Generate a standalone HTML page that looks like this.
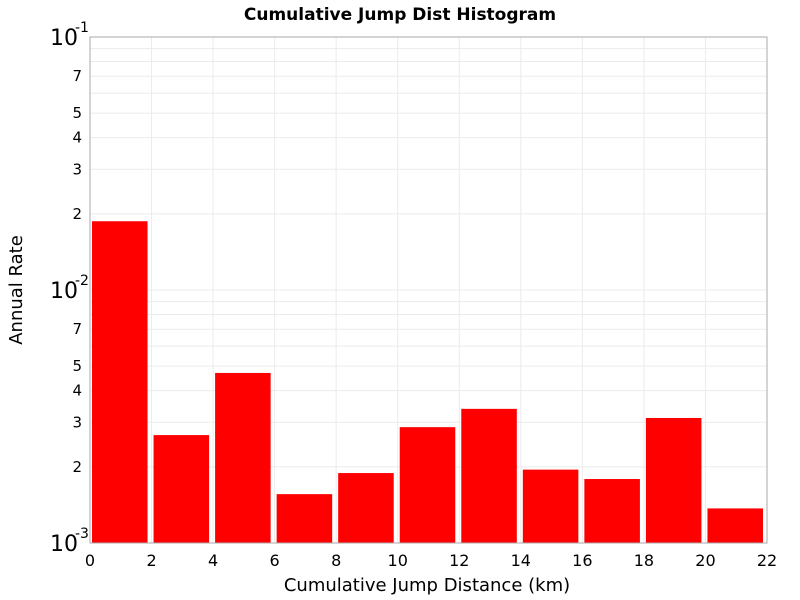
<!DOCTYPE html>
<html><head><meta charset="utf-8"><style>
body{margin:0;background:#fff;}
svg{display:block;font-family:"DejaVu Sans","Liberation Sans",sans-serif;}
</style></head><body>
<svg id="c" width="800" height="600">
<text x="400" y="20" text-anchor="middle" font-size="17" font-weight="bold">Cumulative Jump Dist Histogram</text>
<text x="427" y="591" text-anchor="middle" font-size="18">Cumulative Jump Distance (km)</text>
<text transform="translate(22,290) rotate(-90)" text-anchor="middle" font-size="18">Annual Rate</text>
<g id="grid"></g><g id="bars"></g><g id="axes"></g>
</svg>
<script>
const binStarts=[0,2,4,6,8,10,12,14,16,18,20];
const rates=[0.0187,0.00267,0.0047,0.00156,0.00189,0.00287,0.00339,0.00195,0.00179,0.00312,0.00137];
const xTicks=[0,2,4,6,8,10,12,14,16,18,20,22];
const minorLabels=[2,3,4,5,7];
const binWidth=2;
const NS="http://www.w3.org/2000/svg";
const L=90,R=767,T=37,B=543,xmin=0,xmax=22,lmin=-3,lmax=-1;
const xs=v=>L+(v-xmin)/(xmax-xmin)*(R-L);
const ys=v=>B-(Math.log10(v)-lmin)/(lmax-lmin)*(B-T);
function mk(t,a,p){const e=document.createElementNS(NS,t);for(const k in a)e.setAttribute(k,a[k]);p.appendChild(e);return e;}
const grid=document.getElementById('grid'),bars=document.getElementById('bars'),axes=document.getElementById('axes');
mk('rect',{x:L,y:T,width:R-L,height:B-T,fill:'#fff'},grid);
xTicks.forEach(t=>{const g=mk('line',{x1:xs(t),x2:xs(t),y1:T,y2:B,stroke:'#ebebeb'},grid);


const tx=mk('text',{x:xs(t),y:B+23,'text-anchor':'middle','font-size':16},axes);tx.textContent=t;

});
for(let d=lmin;d<lmax;d++){for(let m=1;m<10;m++){const v=m*Math.pow(10,d);const y=ys(v);
const g=mk('line',{x1:L,x2:R,y1:y,y2:y,stroke:'#ebebeb'},grid);


if(minorLabels.includes(m)){const tx=mk('text',{x:82,y:y+5,'text-anchor':'end','font-size':15},axes);tx.textContent=m;

}}}
for(let d=lmin;d<=lmax;d++){const y=ys(Math.pow(10,d));
const tx=mk('text',{x:50,y:y+8,'font-size':22},axes);tx.textContent='10';


const sp=mk('text',{x:75,y:y-5,'font-size':14},axes);sp.textContent=String(d);

}
binStarts.forEach((s,i)=>{const x0=xs(s)+2,x1=xs(s+binWidth)-4;const y=ys(rates[i]);
const r=mk('rect',{x:x0,y:y,width:x1-x0,height:B-y,fill:'#ff0000'},bars);

});
const f=mk('rect',{x:L,y:T,width:R-L,height:B-T,fill:'none',stroke:'#aaa'},axes);


</script>
</body></html>
